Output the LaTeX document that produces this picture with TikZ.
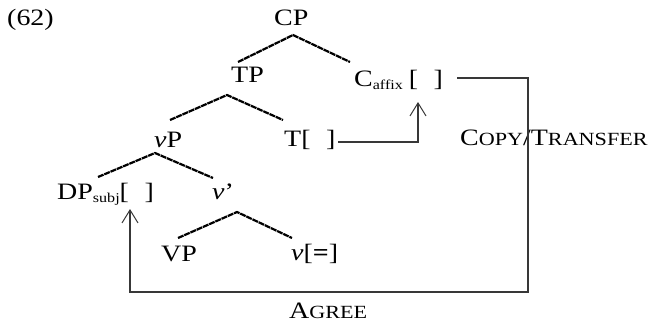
\documentclass[tikz,border=0pt]{standalone}
\usepackage{fontspec}
\setmainfont{Liberation Serif}
\usepackage{graphicx}
\usetikzlibrary{arrows.meta}
\newcommand\hs[1]{\scalebox{1.19}[1]{#1}}
\newcommand\smc[1]{{\fontsize{18.6}{18.6}\selectfont #1}}
\newcommand\sbs[1]{\raisebox{-3.5pt}{\fontsize{13.5}{13.5}\selectfont #1}}
\begin{document}
\begin{tikzpicture}[x=1pt,y=-1pt,
  lab/.style={inner sep=0pt,anchor=base west,font=\fontsize{23.5}{23.5}\selectfont},
  branch/.style={line width=2.2pt,dash pattern=on 6pt off 0.8pt},
  feat/.style={draw=black!78,line width=1.2pt},
  featarrow/.style={feat,-{Straight Barb[length=13pt,width=16pt,line width=1pt]}}]
\useasboundingbox (0,0) rectangle (656,324);
% labels
\node[lab] (ex) at (7,25) {\hs{(62)}};
\node[lab] (CP) at (274,25) {\hs{CP}};
\node[lab] (TP) at (231,82) {\hs{TP}};
\node[lab] (C) at (354,86) {\hs{C\sbs{affix}\hspace{5pt}[\hspace{13pt}]}};
\node[lab] (vP) at (154,147) {\hs{\textit{v}P}};
\node[lab] (T) at (284,146) {\hs{T[\hspace{13pt}]}};
\node[lab] (DP) at (57,199) {\hs{DP\sbs{subj}[\hspace{13pt}]}};
\node[lab] (vbar) at (212,199) {\hs{\textit{v}’}};
\node[lab] (VP) at (161,261) {\hs{VP}};
\node[lab] (v) at (291,260) {\hs{\textit{v}[\textbf{=}]}};
\node[lab] (copy) at (460,145) {\hs{C\smc{OPY}/T\smc{RANSFER}}};
\node[lab] (agree) at (289,318) {\hs{A\smc{GREE}}};
% branch points
\coordinate (cpA) at (293,35);
\coordinate (cpL) at (238,62);
\coordinate (cpR) at (350,62);
\coordinate (tpA) at (227,95);
\coordinate (tpL) at (170,120);
\coordinate (tpR) at (283,120);
\coordinate (vpA) at (155,153);
\coordinate (vpL) at (98,177);
\coordinate (vpR) at (213,178);
\coordinate (vbA) at (237,212);
\coordinate (vbL) at (178,238);
\coordinate (vbR) at (292,238);
\draw[branch] (cpL) -- (cpA) -- (cpR);
\draw[branch] (tpL) -- (tpA) -- (tpR);
\draw[branch] (vpL) -- (vpA) -- (vpR);
\draw[branch] (vbL) -- (vbA) -- (vbR);
% feature arrows
\coordinate (tS) at (338,142);
\coordinate (tC) at (418,142);
\coordinate (tE) at (418,102);
\draw[featarrow] (tS) -- (tC) -- (tE);
\coordinate (cS) at (457,78);
\coordinate (c1) at (528,78);
\coordinate (c2) at (528,292);
\coordinate (c3) at (130,292);
\coordinate (cE) at (130,209);
\draw[featarrow] (cS) -- (c1) -- (c2) -- (c3) -- (cE);
\end{tikzpicture}
\end{document}
